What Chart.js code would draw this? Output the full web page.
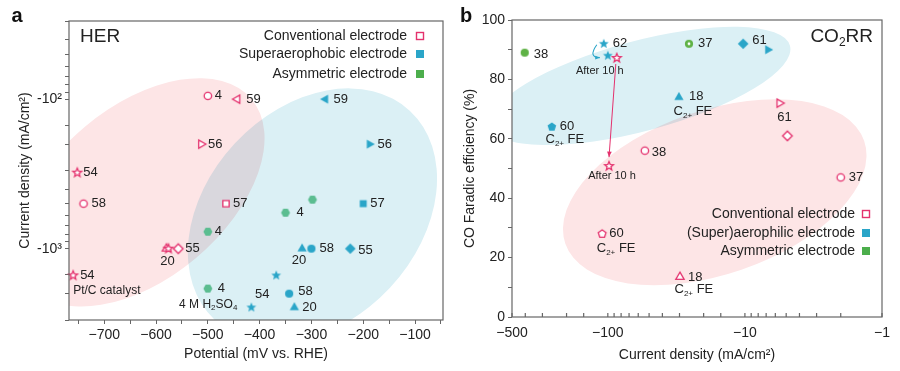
<!DOCTYPE html>
<html>
<head>
<meta charset="utf-8">
<script src="https://cdn.jsdelivr.net/npm/chart.js@4.4.1/dist/chart.umd.min.js"></script>
<style>
  html, body { margin: 0; padding: 0; background: #fff; }
  #wrap { position: relative; width: 900px; height: 371px; }
  canvas { position: absolute; top: 0; }
  #her { left: 0; }
  #co2 { left: 450px; }
</style>
</head>
<body>
<div id="wrap">
  <canvas id="her" width="450" height="371"></canvas>
  <canvas id="co2" width="450" height="371"></canvas>
</div>
<script>
// ---- panel a: HER (potential in mV, |current density| in mA/cm2) ----
const herConvX = [-500, -443, -513, -752, -740, -465, -580, -576, -557, -760];
const herConvY = [95, 100, 200, 310, 500, 500, 1000, 1000, 1000, 1510];
const herConvTags = ['4', '59', '56', '54', '58', '57', '20', '', '55', '54'];

const herAeroX = [-273, -188, -200, -318, -300, -225, -368, -343, -333, -416];
const herAeroY = [100, 200, 500, 1000, 1000, 1000, 1510, 2000, 2470, 2470];
const herAeroTags = ['59', '56', '57', '20', '58', '55', '', '58', '20', '54'];

const herAsymX = [-298, -350, -500, -500];
const herAsymY = [470, 575, 770, 1850];
const herAsymTags = ['', '4', '4', '4'];

// ---- panel b: CO2RR (|current density| in mA/cm2, CO FE in %) ----
const co2ConvX = [86, 98, 5.6, 4.9, 53.7, 2.0, 110, 29.8];
const co2ConvY = [87.2, 50.8, 72, 61, 56, 47, 28, 13.5];
const co2ConvTags = ['', '', '61', '', '38', '37', '60', '18'];

const co2AeroX = [107, 100, 10.3, 6.8, 30.3, 256];
const co2AeroY = [92, 88, 92, 90, 74, 64];
const co2AeroTags = ['62', '', '61', '', '18', '60'];

const co2AsymX = [404, 25.6];
const co2AsymY = [89, 92];
const co2AsymTags = ['38', '37'];

const legendA = ['Conventional electrode', 'Superaerophobic electrode', 'Asymmetric electrode'];
const legendB = ['Conventional electrode', '(Super)aerophilic electrode', 'Asymmetric electrode'];

// ---- styling ----
const FONT = '"Liberation Sans", Arial, Helvetica, sans-serif';
const PINK = '#e4316d';
const BLUE = '#2aa5c8';
const GREEN_A = '#5bbd90';
const GREEN_B = '#5fb246';
const GREEN_LEG = '#4cae4c';
const PINK_FILL = '#fde5e6';
const BLUE_FILL = '#dbf0f5';
const AXIS = '#666';

Chart.defaults.font.family = FONT;
Chart.defaults.color = '#222';

// marker shapes per point
const herConvShape = ['circle', 'ltri', 'rtri', 'star', 'circle', 'square', 'triangle', 'star', 'diamond', 'star'];
const herAeroShape = ['ltri', 'rtri', 'square', 'triangle', 'circle', 'diamond', 'star', 'circle', 'triangle', 'star'];
const herAsymShape = ['hexagon', 'hexagon', 'hexagon', 'hexagon'];
const co2ConvShape = ['star', 'star', 'rtri', 'diamond', 'circle', 'circle', 'pentagon', 'triangle'];
const co2AeroShape = ['star', 'star', 'diamond', 'rtri', 'triangle', 'pentagon'];
const co2AsymShape = ['circle', 'dotcircle'];

// label offsets from the marker: [dx, dy, align]
const herConvOff = [[7, 0], [9, 0], [7, 0], [6, 0], [8, 0], [7, 0], [1, 13, 'center'], [0, 0], [7, 0], [7, 0]];
const herAeroOff = [[8, 0], [8, 0], [7, 0], [-3, 12, 'center'], [8, 0], [8, 2], [0, 0], [9, -2], [8, 0], [11, -13, 'center']];
const herAsymOff = [[0, 0], [11, 0], [7, 0], [10, 0]];
const co2ConvOff = [[0, 0], [0, 0], [5, 14, 'center'], [0, 0], [7, 2], [8, 0], [7, 0], [8, 1]];
const co2AeroOff = [[9, 0], [0, 0], [9, -3], [0, 0], [10, -1], [8, 0]];
const co2AsymOff = [[9, 2], [9, 0]];

function marker(shape, color, filled) {
  const r = filled ? 4.1 : 3.7;
  const size = 16;
  const c = document.createElement('canvas');
  c.width = c.height = size;
  const g = c.getContext('2d');
  const m = size / 2;
  const poly = (n, R, start) => {
    g.beginPath();
    for (let k = 0; k < n; k++) {
      const a = (start + k * 360 / n) * Math.PI / 180;
      g.lineTo(m + R * Math.cos(a), m + R * Math.sin(a));
    }
    g.closePath();
  };
  switch (shape) {
    case 'circle':
    case 'dotcircle':
      g.beginPath(); g.arc(m, m, r, 0, Math.PI * 2); break;
    case 'square': poly(4, r * 1.2, 45); break;
    case 'diamond': poly(4, r * 1.3, -90); break;
    case 'triangle': poly(3, r * 1.3, -90); break;
    case 'rtri': poly(3, r * 1.3, 0); break;
    case 'ltri': poly(3, r * 1.3, 180); break;
    case 'pentagon': poly(5, r * 1.1, -90); break;
    case 'hexagon': poly(6, r * 1.1, 0); break;
    case 'star':
      g.beginPath();
      for (let k = 0; k < 10; k++) {
        const R = k % 2 ? r * 0.55 : r * 1.25;
        const a = (-90 + k * 36) * Math.PI / 180;
        g.lineTo(m + R * Math.cos(a), m + R * Math.sin(a));
      }
      g.closePath();
      break;
  }
  if (filled) {
    g.fillStyle = color; g.fill();
  } else {
    g.fillStyle = '#fff'; g.fill();
    g.strokeStyle = color; g.lineWidth = 1.3; g.stroke();
  }
  if (shape === 'dotcircle') {
    g.beginPath(); g.arc(m, m, 1.4, 0, Math.PI * 2); g.fillStyle = '#fff'; g.fill();
  }
  return c;
}

function series(label, xs, ys, shapes, color, filled, tags, offs) {
  return {
    label,
    data: xs.map((x, i) => ({ x, y: ys[i] })),
    pointStyle: shapes.map(s => marker(s, color, filled)),
    pointRadius: 5,
    clip: false,
    tags,
    tagOff: offs
  };
}

// text with _{sub} parts
function drawRich(ctx, str, x, y, align, size, color, weight) {
  const parts = [];
  const re = /_\{([^}]*)\}/g;
  let last = 0, m;
  while ((m = re.exec(str))) {
    if (m.index > last) parts.push({ t: str.slice(last, m.index), sub: false });
    parts.push({ t: m[1], sub: true });
    last = re.lastIndex;
  }
  if (last < str.length) parts.push({ t: str.slice(last), sub: false });
  const subSize = Math.round(size * 0.65);
  let w = 0;
  parts.forEach(p => {
    ctx.font = (weight || '') + ' ' + (p.sub ? subSize : size) + 'px ' + FONT;
    p.w = ctx.measureText(p.t).width;
    w += p.w;
  });
  let cx = align === 'center' ? x - w / 2 : align === 'right' ? x - w : x;
  ctx.textAlign = 'left';
  ctx.textBaseline = 'middle';
  ctx.fillStyle = color || '#222';
  parts.forEach(p => {
    ctx.font = (weight || '') + ' ' + (p.sub ? subSize : size) + 'px ' + FONT;
    ctx.fillText(p.t, cx, p.sub ? y + size * 0.32 : y);
    cx += p.w;
  });
}

function arrowHead(ctx, x, y, ang, len, color) {
  ctx.beginPath();
  ctx.moveTo(x, y);
  ctx.lineTo(x - len * Math.cos(ang - 0.4), y - len * Math.sin(ang - 0.4));
  ctx.lineTo(x - len * Math.cos(ang + 0.4), y - len * Math.sin(ang + 0.4));
  ctx.closePath();
  ctx.fillStyle = color;
  ctx.fill();
}

function getPt(chart, s, i) {
  const e = chart.getDatasetMeta(s).data[i];
  return { x: e.x, y: e.y };
}

function decor(cfg) {
  return {
    id: 'decor',
    beforeDatasetsDraw(chart) {
      const { ctx, chartArea: a, scales: { x, y } } = chart;
      ctx.save();
      ctx.beginPath(); ctx.rect(a.left, a.top, a.width, a.height); ctx.clip();
      ctx.globalCompositeOperation = 'multiply';
      cfg.blobs.forEach(e => {
        ctx.beginPath();
        ctx.ellipse(x.getPixelForValue(e.x), y.getPixelForValue(e.y), e.rx, e.ry, e.rot * Math.PI / 180, 0, Math.PI * 2);
        ctx.fillStyle = e.color;
        ctx.fill();
      });
      ctx.restore();
    },
    afterDatasetsDraw(chart) {
      const { ctx, chartArea: a } = chart;
      ctx.save();
      // frame
      ctx.strokeStyle = AXIS; ctx.lineWidth = 1.2;
      ctx.strokeRect(a.left, a.top, a.width, a.height);
      // inward ticks (panel b x axis)
      if (cfg.innerTicks) {
        const sx = chart.scales.x;
        ctx.beginPath();
        sx.ticks.forEach(t => {
          const px = sx.getPixelForValue(t.value);
          ctx.moveTo(px, a.bottom); ctx.lineTo(px, a.bottom - 4);
        });
        ctx.stroke();
      }
      if (cfg.arrows) cfg.arrows(chart, ctx);
      // point labels
      chart.data.datasets.forEach((ds, s) => {
        const meta = chart.getDatasetMeta(s);
        ds.tags.forEach((t, i) => {
          if (!t) return;
          const o = ds.tagOff[i], e = meta.data[i];
          drawRich(ctx, t, e.x + o[0], e.y + o[1], o[2] || 'left', 13);
        });
      });
      cfg.notes.forEach(n => {
        const p = getPt(chart, n.set, n.i);
        drawRich(ctx, n.text, p.x + n.dx, p.y + n.dy, n.align, n.size);
      });
      // legend
      const L = cfg.legend;
      L.items.forEach((it, k) => {
        drawRich(ctx, it, L.x, L.ys[k], 'right', 14);
        const col = L.colors[k];
        if (k === 0) {
          ctx.fillStyle = '#fff';
          ctx.fillRect(L.mx - 3.5, L.ys[k] - 3.5, 7, 7);
          ctx.strokeStyle = col; ctx.lineWidth = 1.4;
          ctx.strokeRect(L.mx - 3.5, L.ys[k] - 3.5, 7, 7);
        } else {
          ctx.fillStyle = col;
          ctx.fillRect(L.mx - 4, L.ys[k] - 4, 8, 8);
        }
      });
      // panel title + letter
      drawRich(ctx, cfg.title.text, cfg.title.x, cfg.title.y, cfg.title.align, 19);
      drawRich(ctx, cfg.letter.text, cfg.letter.x, cfg.letter.y, 'center', 20, '#111', 'bold');
      ctx.restore();
    }
  };
}

const tickFont = { size: 14, family: FONT };
const titleFont = { size: 14, family: FONT };

// ---------------- panel a ----------------
new Chart(document.getElementById('her'), {
  type: 'scatter',
  data: {
    datasets: [
      series('Conventional electrode', herConvX, herConvY, herConvShape, PINK, false, herConvTags, herConvOff),
      series('Superaerophobic electrode', herAeroX, herAeroY, herAeroShape, BLUE, true, herAeroTags, herAeroOff),
      series('Asymmetric electrode', herAsymX, herAsymY, herAsymShape, GREEN_A, true, herAsymTags, herAsymOff)
    ]
  },
  options: {
    responsive: false,
    animation: false,
    devicePixelRatio: 1,
    layout: { padding: { left: 0, right: 7, top: 21, bottom: 0 } },
    scales: {
      x: {
        type: 'linear', min: -768, max: -46,
        afterFit: s => { s.height = 51; },
        border: { display: false },
        grid: { drawOnChartArea: false, tickLength: 4, color: AXIS, tickColor: AXIS },
        ticks: {
          stepSize: 50, includeBounds: false, autoSkip: false, maxRotation: 0, padding: 3,
          font: tickFont,
          callback: v => (v % 100 === 0 ? '\u2212' + Math.abs(v) : '')
        },
        title: { display: true, text: 'Potential (mV vs. RHE)', font: titleFont, padding: { top: 0, bottom: 8 } }
      },
      y: {
        type: 'logarithmic', min: 30, max: 3000, reverse: true,
        afterFit: s => { s.width = 69; },
        border: { display: false },
        grid: { drawOnChartArea: false, tickLength: 4, color: AXIS, tickColor: AXIS },
        ticks: {
          autoSkip: false, padding: 3, font: tickFont,
          callback: v => (Math.abs(v - 100) < 1e-6 ? '-10\u00b2' : Math.abs(v - 1000) < 1e-6 ? '-10\u00b3' : '')
        },
        title: { display: true, text: 'Current density (mA/cm\u00b2)', font: titleFont, padding: { top: 17, bottom: 0 } }
      }
    },
    plugins: { legend: { display: false }, tooltip: { enabled: false } }
  },
  plugins: [decor({
    blobs: [
      { x: -630, y: 420, rx: 145, ry: 86, rot: -40, color: PINK_FILL },
      { x: -298, y: 600, rx: 143, ry: 106, rot: -47, color: BLUE_FILL }
    ],
    notes: [
      { set: 0, i: 9, text: 'Pt/C catalyst', dx: 0, dy: 15, align: 'left', size: 12 },
      { set: 1, i: 9, text: '4 M H_{2}SO_{4}', dx: -14, dy: -3, align: 'right', size: 12 }
    ],
    legend: { x: 407, mx: 420, ys: [36, 54, 74], items: legendA, colors: [PINK, BLUE, GREEN_LEG] },
    title: { text: 'HER', x: 80, y: 37, align: 'left' },
    letter: { text: 'a', x: 17, y: 16 }
  })]
});

// ---------------- panel b ----------------
new Chart(document.getElementById('co2'), {
  type: 'scatter',
  data: {
    datasets: [
      series('Conventional electrode', co2ConvX, co2ConvY, co2ConvShape, PINK, false, co2ConvTags, co2ConvOff),
      series('(Super)aerophilic electrode', co2AeroX, co2AeroY, co2AeroShape, BLUE, true, co2AeroTags, co2AeroOff),
      series('Asymmetric electrode', co2AsymX, co2AsymY, co2AsymShape, GREEN_B, true, co2AsymTags, co2AsymOff)
    ]
  },
  options: {
    responsive: false,
    animation: false,
    devicePixelRatio: 1,
    layout: { padding: { left: 0, right: 18, top: 20, bottom: 0 } },
    scales: {
      x: {
        type: 'logarithmic', min: 1, max: 500, reverse: true,
        afterFit: s => { s.height = 54; },
        border: { display: false },
        grid: { drawOnChartArea: false, drawTicks: false, color: AXIS },
        ticks: {
          autoSkip: false, maxRotation: 0, padding: 8, font: tickFont,
          callback: v => ([1, 10, 100, 500].some(k => Math.abs(v - k) < 1e-6) ? '\u2212' + Math.round(v) : '')
        },
        title: { display: true, text: 'Current density (mA/cm\u00b2)', font: titleFont, padding: { top: 0, bottom: 7 } }
      },
      y: {
        type: 'linear', min: 0, max: 100,
        afterFit: s => { s.width = 62; },
        border: { display: false },
        grid: { drawOnChartArea: false, tickLength: 4, color: AXIS, tickColor: AXIS },
        ticks: {
          stepSize: 10, autoSkip: false, padding: 3, font: tickFont,
          callback: v => (v % 20 === 0 ? String(v) : '')
        },
        title: { display: true, text: 'CO Faradic efficiency (%)', font: titleFont, padding: { top: 12, bottom: 0 } }
      }
    },
    plugins: { legend: { display: false }, tooltip: { enabled: false } }
  },
  plugins: [decor({
    blobs: [
      { x: 58, y: 77.8, rx: 155, ry: 45, rot: -15, color: BLUE_FILL },
      { x: 16.6, y: 42, rx: 158, ry: 82, rot: -19, color: PINK_FILL }
    ],
    innerTicks: true,
    arrows: (chart, ctx) => {
      // pink straight arrow: star before -> after 10 h
      const p0 = getPt(chart, 0, 0), p1 = getPt(chart, 0, 1);
      const sx = p0.x - 1, sy = p0.y + 6, ex = p1.x, ey = p1.y - 9;
      ctx.strokeStyle = PINK; ctx.lineWidth = 1;
      ctx.beginPath(); ctx.moveTo(sx, sy); ctx.lineTo(ex, ey); ctx.stroke();
      arrowHead(ctx, ex, ey, Math.atan2(ey - sy, ex - sx), 6, PINK);
      // blue curved arrow: star before -> after 10 h
      const b0 = getPt(chart, 1, 0), b1 = getPt(chart, 1, 1);
      const qx = b0.x - 7, qy = b0.y + 1, cx = b0.x - 16, cy = b1.y + 2, ux = b1.x - 8, uy = b1.y + 2;
      ctx.strokeStyle = BLUE; ctx.lineWidth = 1.1;
      ctx.beginPath(); ctx.moveTo(qx, qy); ctx.quadraticCurveTo(cx, cy, ux, uy); ctx.stroke();
      arrowHead(ctx, ux, uy, Math.atan2(uy - cy, ux - cx), 5, BLUE);
    },
    notes: [
      { set: 1, i: 1, text: 'After 10 h', dx: -8, dy: 15, align: 'center', size: 11 },
      { set: 0, i: 1, text: 'After 10 h', dx: 3, dy: 10, align: 'center', size: 11 },
      { set: 1, i: 4, text: 'C_{2+} FE', dx: 14, dy: 14, align: 'center', size: 13 },
      { set: 1, i: 5, text: 'C_{2+} FE', dx: 13, dy: 13, align: 'center', size: 13 },
      { set: 0, i: 6, text: 'C_{2+} FE', dx: 14, dy: 15, align: 'center', size: 13 },
      { set: 0, i: 7, text: 'C_{2+} FE', dx: 14, dy: 13, align: 'center', size: 13 }
    ],
    legend: { x: 405, mx: 416, ys: [214, 233, 251], items: legendB, colors: [PINK, BLUE, GREEN_LEG] },
    title: { text: 'CO_{2}RR', x: 423, y: 37, align: 'right' },
    letter: { text: 'b', x: 16, y: 16 }
  })]
});
</script>
</body>
</html>
